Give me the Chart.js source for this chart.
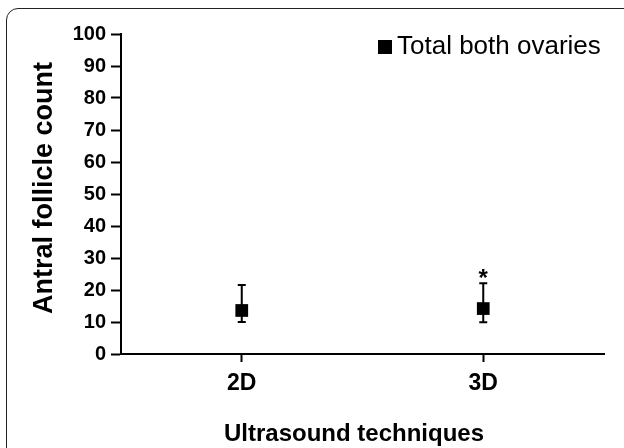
<!DOCTYPE html>
<html>
<head>
<meta charset="utf-8">
<script src="https://cdn.jsdelivr.net/npm/chart.js@4.4.0/dist/chart.umd.min.js"></script>
<style>
  html, body { margin: 0; padding: 0; background: #fff; }
  #wrap { position: relative; width: 624px; height: 448px; overflow: hidden; }
  #frame { position: absolute; left: 6px; top: 8px; width: 660px; height: 480px; border: 1.5px solid #222; border-radius: 12px; }
  canvas { position: absolute; left: 0; top: 0; }
</style>
</head>
<body>
<div id="wrap">
  <div id="frame"></div>
  <canvas id="chart" width="624" height="448"></canvas>
</div>
<script>
// values
const categories = ['2D', '3D']
const seriesLabel = 'Total both ovaries'
const centerValues = [13.6, 14.2]
const upperValues = [21.6, 22.1]
const lowerValues = [10.0, 9.9]
const significance = ['', '*']
const yTicks = [0, 10, 20, 30, 40, 50, 60, 70, 80, 90, 100]
const xTitle = 'Ultrasound techniques'
const yTitle = 'Antral follicle count'

const FONT = "'Liberation Sans', Arial, sans-serif"

// error bars go under the squares
const errorBars = {
  id: 'errorBars',
  beforeDatasetsDraw(chart) {
    const { ctx, scales: { x, y } } = chart
    ctx.save()
    ctx.strokeStyle = '#000'
    ctx.lineWidth = 2
    categories.forEach((c, i) => {
      const px = x.getPixelForValue(i)
      const top = y.getPixelForValue(upperValues[i])
      const bot = y.getPixelForValue(lowerValues[i])
      ctx.beginPath()
      ctx.moveTo(px, top); ctx.lineTo(px, bot)
      ctx.moveTo(px - 4, top); ctx.lineTo(px + 4, top)
      ctx.moveTo(px - 4, bot); ctx.lineTo(px + 4, bot)
      ctx.stroke()
    })
    ctx.restore()
  }
}

// titles, legend and the asterisk
const labels = {
  id: 'labels',
  afterDraw(chart) {
    const { ctx, scales: { x, y } } = chart
    ctx.save()
    ctx.fillStyle = '#000'

    ctx.font = 'bold 24px ' + FONT
    ctx.textAlign = 'center'
    categories.forEach((c, i) => {
      if (!significance[i]) return
      ctx.textBaseline = 'alphabetic'
      ctx.fillText(significance[i], x.getPixelForValue(i), y.getPixelForValue(upperValues[i]) + 3)
    })

    ctx.textBaseline = 'middle'
    ctx.font = 'bold 24px ' + FONT
    ctx.fillText(xTitle, 354, 434)

    ctx.save()
    ctx.translate(45, 188)
    ctx.rotate(-Math.PI / 2)
    ctx.font = 'bold 27px ' + FONT
    ctx.fillText(yTitle, 0, 0)
    ctx.restore()

    // legend
    ctx.fillRect(378, 40, 14, 14)
    ctx.textAlign = 'left'
    ctx.textBaseline = 'alphabetic'
    ctx.font = '26px ' + FONT
    ctx.fillText(seriesLabel, 397, 54)
    ctx.restore()
  }
}

const axisGrid = (len) => ({
  drawOnChartArea: false,
  drawTicks: true,
  tickColor: '#000',
  tickWidth: 2,
  tickLength: len
})

new Chart(document.getElementById('chart'), {
  type: 'line',
  data: {
    labels: categories,
    datasets: [{
      label: seriesLabel,
      data: centerValues,
      showLine: false,
      pointStyle: 'rect',
      pointRadius: 9,
      pointHoverRadius: 9,
      pointBorderWidth: 0,
      backgroundColor: '#000',
      borderColor: '#000'
    }]
  },
  options: {
    responsive: false,
    animation: false,
    devicePixelRatio: 1,
    layout: { padding: { top: 34, right: 20, left: 0, bottom: 0 } },
    plugins: {
      legend: { display: false },
      tooltip: { enabled: false }
    },
    scales: {
      x: {
        type: 'category',
        offset: true,
        afterFit: s => { s.height = 94 },
        grid: axisGrid(8),
        border: { color: '#000', width: 2 },
        ticks: { color: '#000', padding: 8, font: { family: FONT, size: 23, weight: 'bold' } }
      },
      y: {
        min: 0,
        max: 100,
        afterFit: s => { s.width = 121 },
        afterBuildTicks: s => { s.ticks = yTicks.map(v => ({ value: v })) },
        grid: axisGrid(10),
        border: { color: '#000', width: 2 },
        ticks: { color: '#000', padding: 5, font: { family: FONT, size: 20, weight: 'bold' } }
      }
    }
  },
  plugins: [errorBars, labels]
})
</script>
</body>
</html>
